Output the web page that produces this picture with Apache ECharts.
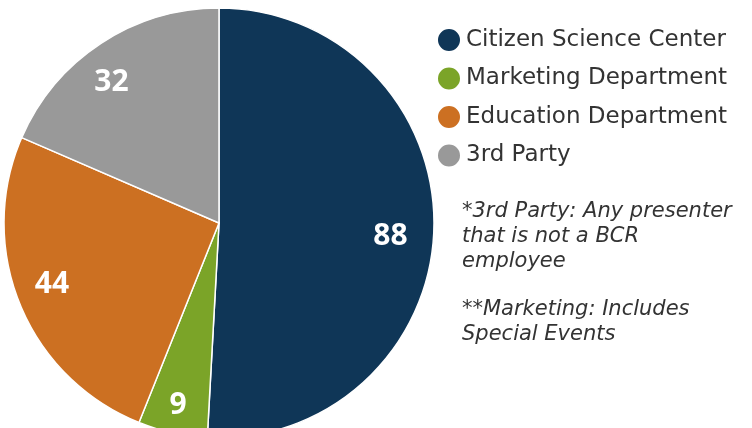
<!DOCTYPE html>
<html>
<head>
<meta charset="utf-8">
<script src="https://cdn.jsdelivr.net/npm/echarts@6/dist/echarts.min.js"></script>
<style>
  html, body { margin: 0; padding: 0; background: #fff; }
  #chart { width: 752px; height: 428px; }
</style>
</head>
<body>
<div id="chart"></div>
<script>
const categories = ["Citizen Science Center", "Marketing Department", "Education Department", "3rd Party"];
const values = [88, 9, 44, 32];
const colors = ["#0f3657", "#7ba428", "#cc7022", "#999999"];
const notes = [
  "*3rd Party: Any presenter\nthat is not a BCR\nemployee",
  "**Marketing: Includes\nSpecial Events"
];

const wideFont = "'DejaVu Sans', sans-serif";
const labelFont = "'Open Sans', 'DejaVu Sans', sans-serif";
const pieData = categories.map((name, i) => ({
  name: name,
  value: values[i],
  itemStyle: { color: colors[i] }
}));

const chart = echarts.init(document.getElementById("chart"));

chart.setOption({
  animation: false,
  legend: {
    orient: "vertical",
    left: 431,
    top: 22,
    icon: "circle",
    itemWidth: 24,
    itemHeight: 24,
    itemGap: 12.5,
    textStyle: {
      color: "#333",
      fontSize: 23,
      fontFamily: wideFont
    },
    data: categories
  },
  graphic: [
    {
      type: "text",
      left: 462,
      top: 199,
      style: {
        text: notes[0],
        fill: "#333",
        font: "italic 21px " + wideFont,
        lineHeight: 25
      }
    },
    {
      type: "text",
      left: 462,
      top: 297,
      style: {
        text: notes[1],
        fill: "#333",
        font: "italic 21px " + wideFont,
        lineHeight: 25
      }
    }
  ],
  series: [
    {
      // the visible pie
      type: "pie",
      center: [219, 223],
      radius: [0, 215],
      startAngle: 90,
      clockwise: true,
      label: { show: false },
      labelLine: { show: false },
      itemStyle: { borderColor: "#fff", borderWidth: 1.5 },
      emphasis: { disabled: true },
      data: pieData
    },
    {
      // transparent ring, only to put the value labels further out
      type: "pie",
      center: [219, 223],
      radius: [138, 215],
      startAngle: 90,
      clockwise: true,
      silent: true,
      legendHoverLink: false,
      itemStyle: { color: "rgba(0,0,0,0)" },
      label: {
        show: true,
        position: "inside",
        formatter: "{c}",
        color: "#fff",
        fontSize: 30,
        fontWeight: "bold",
        fontFamily: labelFont
      },
      labelLine: { show: false },
      // small nudges so the labels sit where the original had them
      labelLayout: function (p) {
        const nudge = [[-8, 9], [-2, 7], [-1, -7], [-9, 9]];
        return { dx: nudge[p.dataIndex][0], dy: nudge[p.dataIndex][1] };
      },
      emphasis: { disabled: true },
      data: categories.map((name, i) => ({ name: name + " ", value: values[i] }))
    }
  ]
});
</script>
</body>
</html>
